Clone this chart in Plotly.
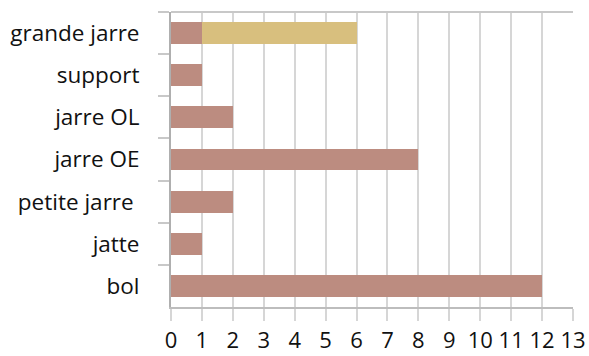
import plotly.graph_objects as go

categories = ["grande jarre", "support", "jarre OL", "jarre OE", "petite jarre ", "jatte", "bol"]
series1 = [1, 1, 2, 8, 2, 1, 12]
series2 = [5, 0, 0, 0, 0, 0, 0]
x_ticks = list(range(0, 14))

fig = go.Figure()
fig.add_trace(go.Bar(y=categories, x=series1, orientation="h",
                     marker=dict(color="#BC8C80", line=dict(width=0)), showlegend=False))
fig.add_trace(go.Bar(y=categories, x=series2, orientation="h",
                     marker=dict(color="#D8BF7E", line=dict(width=0)), showlegend=False))

fig.update_layout(
    barmode="stack",
    bargap=0.48,
    width=589, height=356,
    margin=dict(l=171, r=16, t=12, b=49),
    paper_bgcolor="white", plot_bgcolor="white",
    font=dict(family="Open Sans", color="#111111"),
    xaxis=dict(range=[0, 13], tickvals=x_ticks, ticktext=[str(v) for v in x_ticks],
               automargin=False,
               showgrid=True, gridcolor="#D6D6D6", gridwidth=2,
               zeroline=False, showline=True, linecolor="#BDBDBD", linewidth=2,
               ticks="outside", ticklen=12, tickwidth=2, tickcolor="#D6D6D6",
               ticklabelstandoff=1,
               tickfont=dict(size=22, family="Open Sans", color="#111111")),
    yaxis=dict(autorange="reversed", type="category", tickson="boundaries",
               automargin=False,
               showgrid=False, zeroline=False, showline=True, linecolor="#AFAFAF", linewidth=2,
               ticks="outside", ticklen=11, tickwidth=2, tickcolor="#C8C8C8",
               ticklabelstandoff=25,
               tickfont=dict(size=22.5, family="Open Sans", color="#111111")),
    shapes=[dict(type="line", xref="x", yref="paper", x0=0, x1=13, y0=1, y1=1,
                 line=dict(color="#C8C8C8", width=2))],
)

fig.write_html("out.html",
               config={"displayModeBar": False},
               post_script="document.body.style.margin='0px';document.body.style.overflow='hidden';")
